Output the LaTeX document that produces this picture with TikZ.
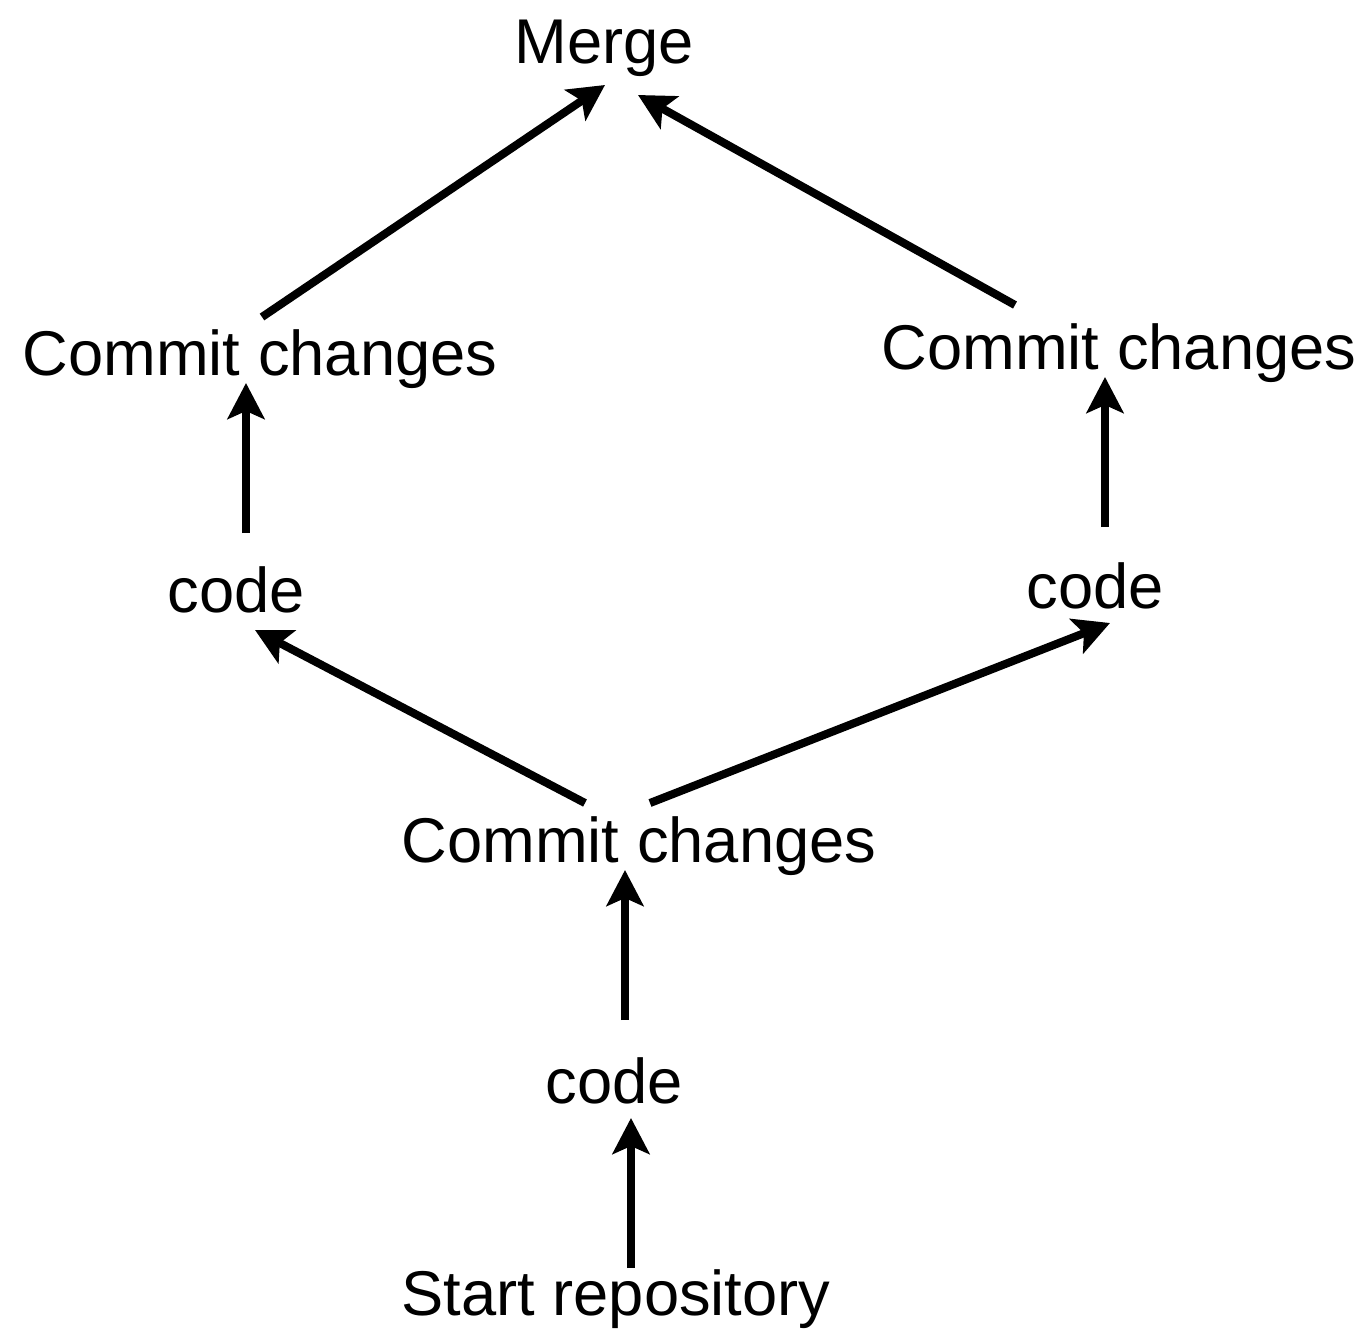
\documentclass[tikz,border=0pt]{standalone}
\usepackage{fontspec}
\setmainfont{Liberation Sans}
\usetikzlibrary{arrows.meta}
\begin{document}
\begin{tikzpicture}[x=0.02cm,y=-0.02cm,
  label/.style={anchor=base,inner sep=0pt,font=\fontsize{36}{43}\selectfont},
  flow/.style={line width=4.6pt,-{Stealth[length=0.72cm,width=0.74cm,inset=0.16cm]}}]
\useasboundingbox (0,0) rectangle (1370,1330);

% labels, placed by their baselines
\node[label] (merge)   at (604,63)   {Merge};
\node[label] (commitL) at (260,375)  {Commit changes};
\node[label] (commitR) at (1119,369) {Commit changes};
\node[label] (codeL)   at (236,612)  {code};
\node[label] (codeR)   at (1095,608) {code};
\node[label] (commitM) at (639,862)  {Commit changes};
\node[label] (codeB)   at (614,1103) {code};
\node[label] (start)   at (616,1315) {Start repository};

% connectors
\draw[flow] ([shift={(15,-47)}]start.base) -- ([shift={(17,15)}]codeB.base);
\draw[flow] ([shift={(11,-83)}]codeB.base) -- ([shift={(-14,8)}]commitM.base);
\draw[flow] ([shift={(-54,-59)}]commitM.base) -- ([shift={(19,18)}]codeL.base);
\draw[flow] ([shift={(11,-59)}]commitM.base) -- ([shift={(15,15)}]codeR.base);
\draw[flow] ([shift={(10,-79)}]codeL.base) -- ([shift={(-14,8)}]commitL.base);
\draw[flow] ([shift={(10,-81)}]codeR.base) -- ([shift={(-14,8)}]commitR.base);
\draw[flow] ([shift={(2,-58)}]commitL.base) -- ([shift={(1,22)}]merge.base);
\draw[flow] ([shift={(-104,-64)}]commitR.base) -- ([shift={(34,32)}]merge.base);
\end{tikzpicture}
\end{document}
